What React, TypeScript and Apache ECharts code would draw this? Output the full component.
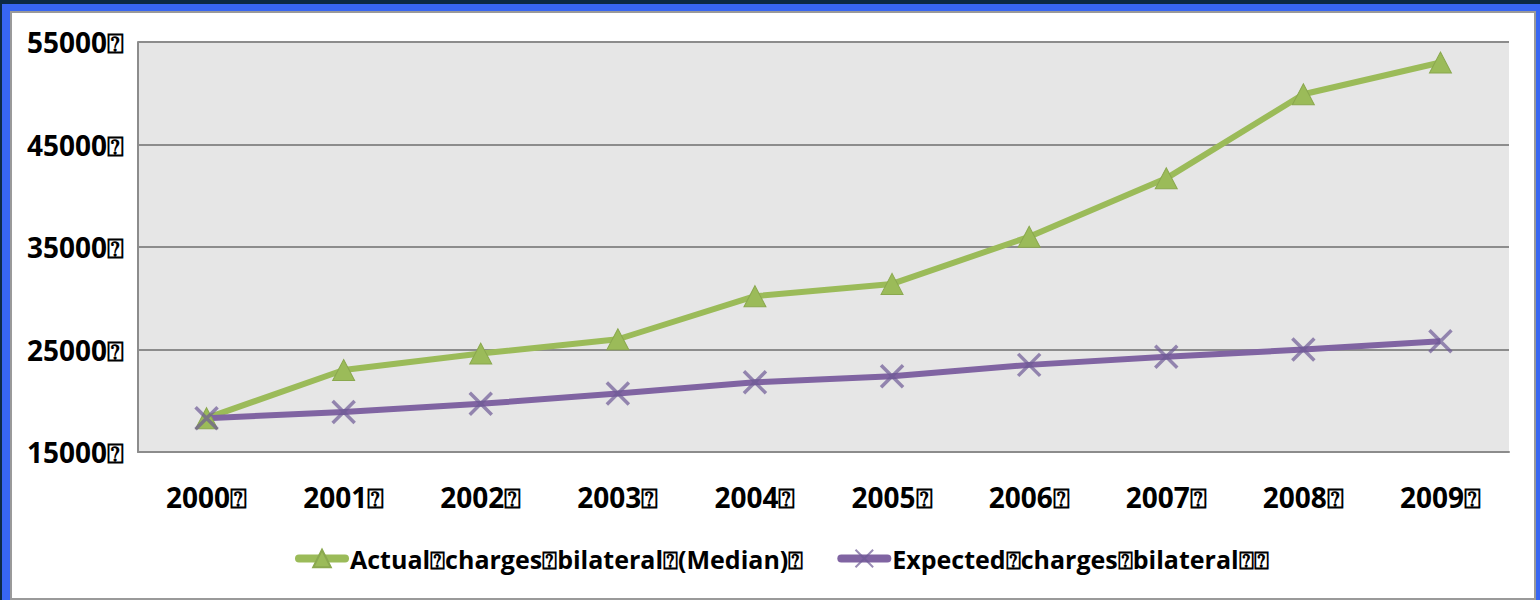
import React, { useEffect, useRef } from "react";
import * as echarts from "echarts";

const BOX = "\u2370";
const years = ["2000", "2001", "2002", "2003", "2004", "2005", "2006", "2007", "2008", "2009"];
const categories = years.map((y) => y + BOX);
const actualName = "Actual" + BOX + "charges" + BOX + "bilateral" + BOX + "(Median)" + BOX;
const expectedName = "Expected" + BOX + "charges" + BOX + "bilateral" + BOX + BOX;
const actualCharges = [18300, 23000, 24600, 26000, 30200, 31400, 36000, 41700, 49900, 53000];
const expectedCharges = [18300, 18900, 19700, 20700, 21800, 22400, 23500, 24300, 25000, 25800];
const yMin = 15000;
const yMax = 55000;
const yStep = 10000;

const FONT = "'Open Sans', 'Noto Sans', 'DejaVu Sans', sans-serif";
const CROSS = "path://M0,0L20,20M20,0L0,20";

export default function App() {
  const ref = useRef<HTMLDivElement>(null);
  useEffect(() => {
    if (!ref.current) return;
    const chart = echarts.init(ref.current, undefined, { renderer: "svg" });
    chart.setOption({
      animation: false,
      backgroundColor: "transparent",
      grid: {
        left: 138,
        top: 42,
        right: 31,
        bottom: 148,
        show: true,
        backgroundColor: "#e6e6e6",
        borderWidth: 0,
      },
      legend: {
        left: 290,
        top: 541,
        itemWidth: 46,
        itemHeight: 22,
        itemGap: 34,
        lineStyle: { width: 8, cap: "round" },
        textStyle: { fontFamily: FONT, fontWeight: "bold", fontSize: 25, color: "#000" },
        data: [actualName, expectedName],
      },
      xAxis: {
        type: "category",
        data: categories,
        boundaryGap: true,
        axisLine: { lineStyle: { color: "#8c8c8c", width: 2 } },
        axisTick: { show: false },
        axisLabel: { margin: 31, fontFamily: FONT, fontWeight: "bold", fontSize: 28, color: "#000" },
      },
      yAxis: {
        type: "value",
        min: yMin,
        max: yMax,
        interval: yStep,
        axisLine: { show: true, lineStyle: { color: "#8c8c8c", width: 2 } },
        axisTick: { show: false },
        splitLine: { lineStyle: { color: "#8c8c8c", width: 2 } },
        axisLabel: {
          margin: 14,
          fontFamily: FONT,
          fontWeight: "bold",
          fontSize: 28,
          color: "#000",
          padding: [10, 0, 0, 0],
          formatter: (v: number) => v + BOX,
        },
      },
      series: [
        {
          name: actualName,
          type: "line",
          data: actualCharges,
          symbol: "triangle",
          symbolSize: [22, 21],
          lineStyle: { color: "#9bbb59", width: 6 },
          itemStyle: { color: "#9bbb59", borderColor: "#8aa84e", borderWidth: 1 },
        },
        {
          name: expectedName,
          type: "line",
          data: expectedCharges,
          symbol: CROSS,
          symbolSize: 22,
          lineStyle: { color: "#8064a2", width: 6 },
          itemStyle: { color: "rgba(0,0,0,0)", borderColor: "rgba(110,90,150,0.7)", borderWidth: 3.5 },
        },
      ],
    });
    return () => chart.dispose();
  }, []);

  return (
    <div style={{ position: "fixed", left: 0, top: 0, width: 1540, height: 600, background: "#0c2a44", overflow: "hidden" }}>
      <div style={{ position: "absolute", left: 2, top: 4, width: 1538, height: 596, background: "#3766f2" }} />
      <div
        style={{
          position: "absolute",
          left: 10,
          top: 11,
          width: 1526,
          height: 589,
          background: "#ffffff",
          border: "2px solid #9a9a9a",
          boxSizing: "border-box",
        }}
      />
      <div ref={ref} style={{ position: "absolute", left: 0, top: 0, width: 1540, height: 600 }} />
    </div>
  );
}
